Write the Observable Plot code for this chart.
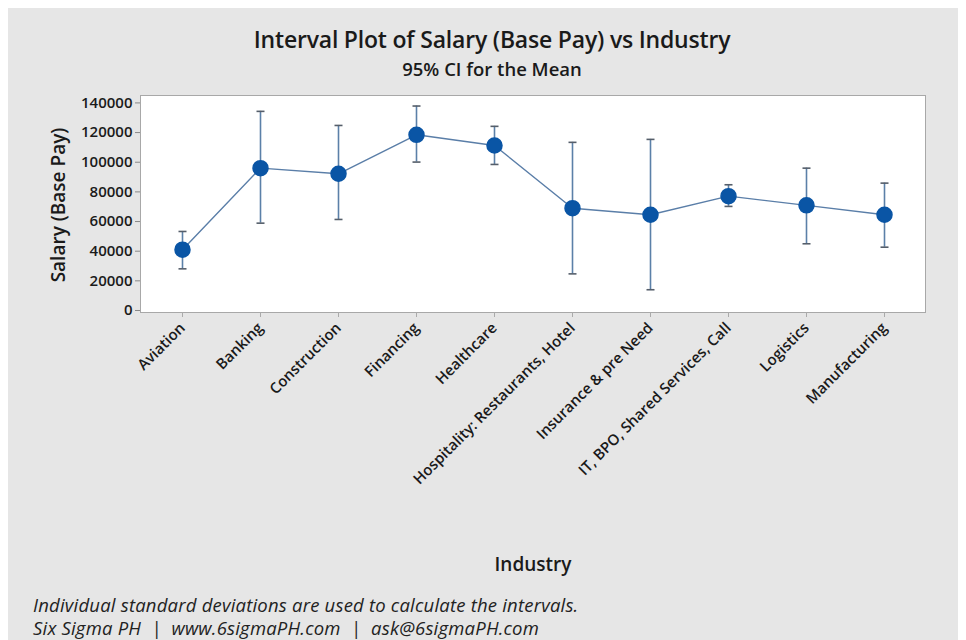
<!DOCTYPE html>
<html>
<head>
<meta charset="utf-8">
<script src="https://cdn.jsdelivr.net/npm/d3@7"></script>
<script src="https://cdn.jsdelivr.net/npm/@observablehq/plot@0.6"></script>
<style>
  html, body { margin: 0; padding: 0; background: #ffffff; }
  #fig { position: absolute; left: 8px; top: 8px; width: 950px; height: 632px; background: #e6e6e6; font-family: "Open Sans", "Noto Sans", sans-serif; color: #1a1a1a; }
  #title { position: absolute; left: 0; width: 968px; top: 15px; text-align: center; font-size: 23px; font-weight: 600; letter-spacing: -0.2px; }
  #subtitle { position: absolute; left: 0; width: 968px; top: 48px; text-align: center; font-size: 18.5px; font-weight: 600; }
  #chart { position: absolute; left: 0; top: 80px; }
  #xlabel { position: absolute; left: 0; width: 1050px; text-align: center; top: 543px; font-size: 19px; font-weight: 600; }
  #note { position: absolute; left: 25px; top: 585px; font-size: 18.5px; font-style: italic; line-height: 23px; color: #222; letter-spacing: 0.2px; }
</style>
</head>
<body>
<div id="fig">
  <div id="title">Interval Plot of Salary (Base Pay) vs Industry</div>
  <div id="subtitle">95% CI for the Mean</div>
  <div id="chart"></div>
  <div id="xlabel">Industry</div>
  <div id="note">Individual standard deviations are used to calculate the intervals.<br>Six Sigma PH &nbsp;|&nbsp; www.6sigmaPH.com &nbsp;|&nbsp; ask@6sigmaPH.com</div>
</div>
<script>
const industries = ["Aviation", "Banking", "Construction", "Financing", "Healthcare",
  "Hospitality: Restaurants, Hotel", "Insurance & pre Need", "IT, BPO, Shared Services, Call",
  "Logistics", "Manufacturing"];
const means = [41000, 96000, 92200, 118500, 111300, 69000, 64600, 77100, 70900, 64600];
const lower = [28100, 58900, 61400, 100100, 98500, 24700, 14000, 70200, 45000, 42700];
const upper = [53300, 134300, 124800, 137900, 124200, 113400, 115400, 84800, 96000, 85900];
const yTicks = [0, 20000, 40000, 60000, 80000, 100000, 120000, 140000];

const data = industries.map((name, i) => ({name, mean: means[i], lo: lower[i], hi: upper[i]}));

const capSymbol = {
  draw(context, size) {
    const r = Math.sqrt(size / Math.PI);
    context.moveTo(-r, 0);
    context.lineTo(r, 0);
  }
};

const chart = Plot.plot({
  width: 950,
  height: 460,
  marginLeft: 132,
  marginRight: 33,
  marginTop: 7,
  marginBottom: 236,
  style: { background: "transparent", fontFamily: "Open Sans, Noto Sans, sans-serif", color: "#1a1a1a" },
  x: { type: "point", domain: industries, padding: 0.5 },
  y: { domain: [-1350, 145000] },
  marks: [
    Plot.frame({ fill: "white", stroke: "#a8a8a8" }),
    Plot.axisY({ ticks: yTicks, tickFormat: d3.format("d"), tickSize: 5, tickPadding: 3, stroke: "#888", label: null, fontSize: 15, fontWeight: 600 }),
    Plot.axisX({ tickRotate: -45, tickSize: 5, tickPadding: 8, stroke: "#aaa", label: null, fontSize: 15, fontWeight: 600 }),
    Plot.ruleX(data, { x: "name", y1: "lo", y2: "hi", stroke: "#5b80a8", strokeWidth: 1.6 }),
    Plot.dot(data, { x: "name", y: "lo", symbol: capSymbol, r: 4, stroke: "#555e6a", strokeWidth: 1.6 }),
    Plot.dot(data, { x: "name", y: "hi", symbol: capSymbol, r: 4, stroke: "#555e6a", strokeWidth: 1.6 }),
    Plot.line(data, { x: "name", y: "mean", stroke: "#5a7ea8", strokeWidth: 1.4 }),
    Plot.dot(data, { x: "name", y: "mean", r: 7.5, fill: "#0a55a5", stroke: "#0a55a5" })
  ]
});
document.getElementById("chart").appendChild(chart);

// Y axis title
const svg = d3.select(chart);
svg.append("text")
  .attr("transform", "translate(57,117) rotate(-90)")
  .attr("text-anchor", "middle")
  .attr("font-size", 19)
  .attr("font-weight", 600)
  .attr("fill", "#1a1a1a")
  .text("Salary (Base Pay)");
</script>
</body>
</html>
